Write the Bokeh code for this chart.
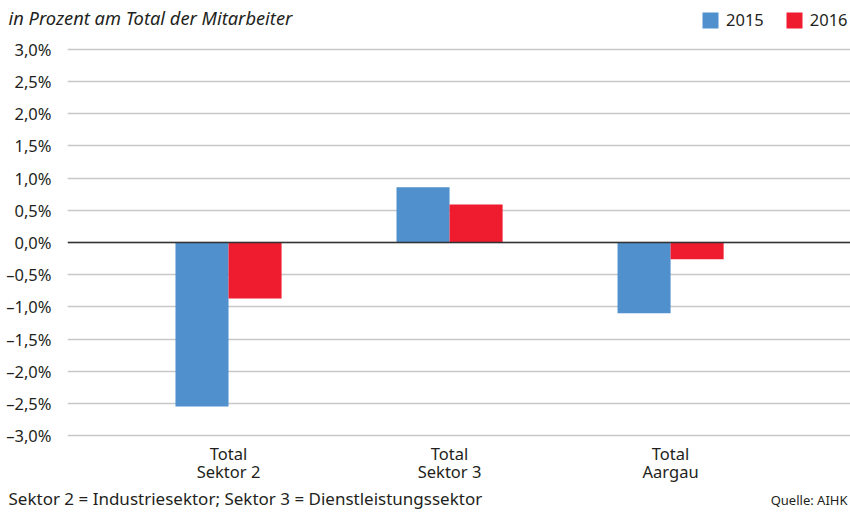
import numpy as np
from bokeh.plotting import figure
from bokeh.layouts import column
from bokeh.models import (ColumnDataSource, Range1d, FixedTicker, Label, Legend, LegendItem, Span)
from bokeh.transform import dodge
from bokeh.embed import file_html
from bokeh.resources import INLINE

categories = ["Total\nSektor 2", "Total\nSektor 3", "Total\nAargau"]
years = ["2015", "2016"]
v2015 = [-2.55, 0.86, -1.10]
v2016 = [-0.87, 0.59, -0.26]
y_ticks = [-3.0, -2.5, -2.0, -1.5, -1.0, -0.5, 0.0, 0.5, 1.0, 1.5, 2.0, 2.5, 3.0]

FONT = "Noto Sans"
TXT = "#231f20"
BLUE = "#4f90cd"
RED = "#ee1c2e"
FS = "16.5px"
W = 850

src = ColumnDataSource(dict(x=list(range(len(categories))), v2015=v2015, v2016=v2016))


def text_fig(h):
    f = figure(width=W, height=h, output_backend="svg", toolbar_location=None,
               x_range=Range1d(10, 11), y_range=Range1d(10, 11), x_axis_type=None, y_axis_type=None,
               min_border_left=0, min_border_right=0, min_border_top=0, min_border_bottom=0,
               frame_align=False)
    f.outline_line_color = None
    f.xgrid.visible = False
    f.ygrid.visible = False
    return f

# ---- header: subtitle + legend
top = text_fig(31)
top.add_layout(Label(x=8, y=14, x_units="screen", y_units="screen", text="in Prozent am Total der Mitarbeiter",
                     text_baseline="middle", text_font=FONT, text_font_style="italic",
                     text_font_size="18.3px", text_color=TXT))
# legend proxies (same data, outside this header's visible range)
d1 = top.vbar(x="x", top="v2015", width=0.24, source=src, fill_color=BLUE, line_color=None)
d2 = top.vbar(x="x", top="v2016", width=0.24, source=src, fill_color=RED, line_color=None)
legend = Legend(items=[LegendItem(label=years[0], renderers=[d1]),
                       LegendItem(label=years[1], renderers=[d2])],
                orientation="horizontal", location=(700, 0),
                glyph_width=20, glyph_height=20, label_standoff=6, spacing=20,
                padding=0, margin=0, border_line_color=None, background_fill_alpha=0,
                label_text_font=FONT, label_text_font_size=FS, label_text_color=TXT)
top.add_layout(legend, "center")

# ---- main chart
p = figure(width=W, height=456, output_backend="svg", toolbar_location=None,
           x_range=Range1d(-0.7285, 2.814), y_range=Range1d(-3.093, 3.093),
           min_border_left=67, min_border_right=0, min_border_top=12, min_border_bottom=46,
           frame_align=False)
p.outline_line_color = None

r1 = p.vbar(x=dodge("x", -0.12), top="v2015", width=0.24, source=src, fill_color=BLUE, line_color=None)
r2 = p.vbar(x=dodge("x", 0.12), top="v2016", width=0.24, source=src, fill_color=RED, line_color=None)
p.add_layout(Span(location=0, dimension="width", line_color="#333333", line_width=1.5))

p.yaxis.ticker = FixedTicker(ticks=y_ticks)
def fmt(v):
    s = f"{abs(v):.1f}".replace(".", ",") + "%"
    return ("\u2013" + s) if v < 0 else s
p.yaxis.major_label_overrides = {v: fmt(v) for v in y_ticks}
p.yaxis.axis_line_color = None
p.yaxis.major_tick_line_color = None
p.yaxis.minor_tick_line_color = None
p.yaxis.major_label_standoff = 10
p.yaxis.major_label_text_font = FONT
p.yaxis.major_label_text_font_size = FS
p.yaxis.major_label_text_color = TXT

p.xaxis.ticker = FixedTicker(ticks=list(range(len(categories))))
p.xaxis.major_label_overrides = {i: c for i, c in enumerate(categories)}
p.xaxis.axis_line_color = None
p.xaxis.major_tick_line_color = None
p.xaxis.minor_tick_line_color = None
p.xaxis.major_tick_out = 0
p.xaxis.minor_tick_out = 0
p.xaxis.major_label_standoff = 0
p.xaxis.major_label_text_font = FONT
p.xaxis.major_label_text_font_size = FS
p.xaxis.major_label_text_line_height = 0.8
p.xaxis.major_label_text_color = TXT

p.xgrid.grid_line_color = None
p.ygrid.ticker = FixedTicker(ticks=y_ticks)
p.ygrid.grid_line_color = "#c8c8c8"
p.ygrid.grid_line_width = 1.5

# ---- footer
bot = text_fig(23)
bot.add_layout(Label(x=8, y=12, x_units="screen", y_units="screen",
                     text="Sektor 2 = Industriesektor; Sektor 3 = Dienstleistungssektor",
                     text_baseline="middle",
                     text_font=FONT, text_font_size="17px", text_color=TXT))
bot.add_layout(Label(x=847, y=11, x_units="screen", y_units="screen", text="Quelle: AIHK", text_align="right",
                     text_baseline="middle", text_font=FONT, text_font_size="13px", text_color=TXT))

layout = column(top, p, bot, spacing=0)
open("out.html", "w").write(file_html(layout, INLINE))
